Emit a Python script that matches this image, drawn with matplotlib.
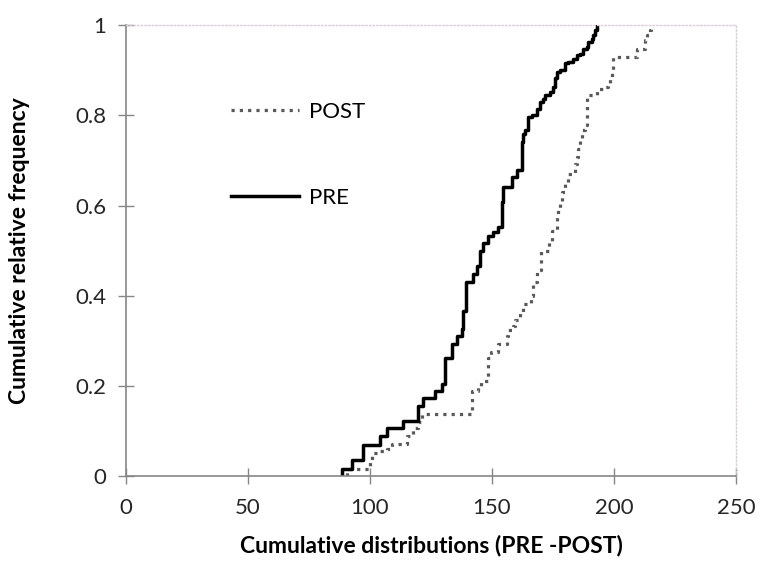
import matplotlib
matplotlib.use("Agg")
import matplotlib.pyplot as plt

plt.rcParams['font.family'] = ['Lato', 'DejaVu Sans']

# step points (x = value, y = cumulative relative frequency)
pre_x = [88.4, 88.4, 92.5, 97.3, 104.1, 106.8, 113.6, 119.8, 121.6, 126.6, 129.4,
         130.7, 133.5, 135.5, 137.6, 138.2, 139.3, 142.3, 143.7, 145.1, 146.4,
         148.5, 150.5, 152.6, 154.0, 154.6, 158.1, 160.1, 162.2, 162.8, 163.5,
         164.9, 166.3, 168.3, 169.7, 171.0, 171.7, 173.8, 175.1, 175.8, 176.5,
         177.9, 179.9, 181.3, 183.3, 184.7, 186.1, 187.4, 188.8, 189.5, 190.9,
         191.5, 192.2, 192.9]
pre_y = [0.0, 0.017, 0.035, 0.070, 0.089, 0.106, 0.122, 0.156, 0.174, 0.190, 0.204,
         0.263, 0.293, 0.311, 0.327, 0.367, 0.430, 0.448, 0.467, 0.500, 0.518,
         0.533, 0.541, 0.552, 0.607, 0.641, 0.663, 0.678, 0.741, 0.759, 0.767,
         0.796, 0.800, 0.815, 0.830, 0.837, 0.844, 0.852, 0.863, 0.882, 0.896,
         0.900, 0.915, 0.918, 0.926, 0.933, 0.937, 0.948, 0.952, 0.963, 0.970,
         0.978, 0.989, 1.0]

post_x = [90.4, 90.4, 100.0, 100.7, 104.0, 107.0, 109.0, 115.2, 117.6, 119.7, 121.2,
          141.8, 144.3, 145.6, 148.5, 149.5, 152.6, 156.0, 156.7, 158.5, 159.4,
          161.5, 162.6, 165.9, 166.7, 168.3, 170.0, 173.3, 174.6, 176.5, 177.2,
          177.9, 178.6, 180.0, 181.3, 184.0, 184.7, 185.4, 186.1, 186.8, 188.2,
          188.8, 192.9, 195.5, 197.6, 198.4, 199.1, 199.7, 209.3, 212.7, 213.4,
          214.8, 215.2]
post_y = [0.0, 0.017, 0.035, 0.052, 0.055, 0.060, 0.072, 0.090, 0.107, 0.120, 0.138,
          0.189, 0.200, 0.210, 0.262, 0.276, 0.293, 0.311, 0.324, 0.333, 0.346,
          0.364, 0.381, 0.400, 0.430, 0.458, 0.500, 0.522, 0.544, 0.574, 0.593,
          0.607, 0.630, 0.651, 0.670, 0.692, 0.707, 0.726, 0.748, 0.767, 0.778,
          0.844, 0.859, 0.863, 0.867, 0.881, 0.900, 0.930, 0.948, 0.967, 0.978,
          0.989, 1.0]

x_ticks = [0, 50, 100, 150, 200, 250]
y_ticks = [0, 0.2, 0.4, 0.6, 0.8, 1]
y_tick_labels = ["0", "0.2", "0.4", "0.6", "0.8", "1"]

fig = plt.figure(figsize=(7.58, 5.71), dpi=100)
ax = fig.add_axes([0.1662, 0.166, 0.8048, 0.790])

ax.step(post_x, post_y, where='post', color='#595959', lw=2.3, ls=(0, (1, 1.6)),
        label='POST', dash_capstyle='butt')
ax.step(pre_x, pre_y, where='post', color='black', lw=2.5, label='PRE')

ax.set_xlim(0, 250)
ax.set_ylim(0, 1)
ax.set_xticks(x_ticks)
ax.set_yticks(y_ticks)
ax.set_yticklabels(y_tick_labels)

for s in ['left', 'bottom']:
    ax.spines[s].set_color('#868686')
    ax.spines[s].set_linewidth(1.2)
for s in ['top', 'right']:
    ax.spines[s].set_color('#dccbdc')
    ax.spines[s].set_linewidth(1.0)
    ax.spines[s].set_linestyle(':')

ax.tick_params(direction='inout', length=12, width=1.0, color='#868686',
               labelsize=16, labelcolor='#262626')
ax.tick_params(axis='x', pad=10)
ax.tick_params(axis='y', pad=8)

ax.set_xlabel("Cumulative distributions (PRE -POST)", fontsize=16.5, fontweight='bold',
              labelpad=12)
ax.set_ylabel("Cumulative relative frequency", fontsize=16.5, fontweight='bold',
              labelpad=33)

ax.legend(loc='upper left', bbox_to_anchor=(0.14, 0.875), frameon=False, fontsize=16,
          handlelength=3.05, handletextpad=0.45, labelspacing=3.0)

fig.savefig("out.png", dpi=100)
